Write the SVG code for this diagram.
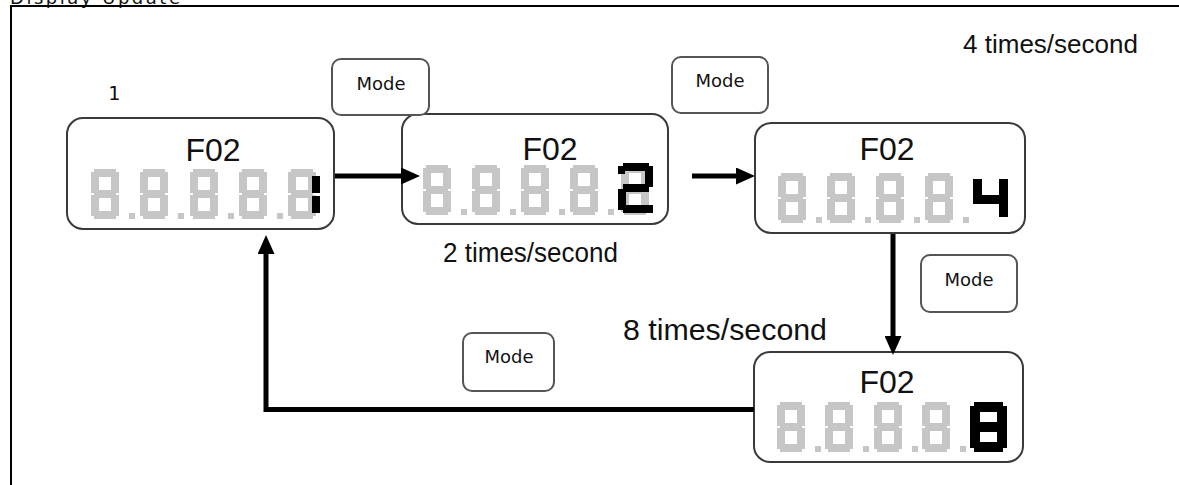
<svg xmlns="http://www.w3.org/2000/svg" xmlns:xlink="http://www.w3.org/1999/xlink" width="1179" height="485" viewBox="0 0 1179 485">
<style>
.frame{fill:none;stroke:#000;stroke-width:2}
.lcd{fill:#fff;stroke:#3a3a3a;stroke-width:2}
.btn{fill:#fff;stroke:#555;stroke-width:2}
.f02{font-family:"Liberation Sans",Arial,sans-serif;font-size:32px;fill:#111;text-anchor:middle}
.mode{font-family:"DejaVu Sans",sans-serif;font-size:18px;fill:#111;text-anchor:middle}
.rate{font-family:"Liberation Sans",Arial,sans-serif;fill:#111}
.seg{fill:#c6c6c6}
.blk{fill:#000}
.conn{fill:none;stroke:#000;stroke-width:5}
</style>
<defs>
<marker id="ah" viewBox="0 0 19 17" refX="1" refY="8.5" markerWidth="19" markerHeight="17" markerUnits="userSpaceOnUse" orient="auto">
<path d="M0,0 L19,8.5 L0,17 Z" fill="#000"/>
</marker>
<g id="g8" class="seg">
<rect x="3" y="0" width="22" height="8"/>
<rect x="0" y="3" width="8" height="21"/>
<rect x="20" y="3" width="8" height="21"/>
<rect x="3" y="21" width="22" height="8"/>
<rect x="0" y="26" width="8" height="21"/>
<rect x="20" y="26" width="8" height="21"/>
<rect x="3" y="42" width="22" height="8"/>
</g>
<g id="g8d">
<use xlink:href="#g8"/>
<rect class="seg" x="38" y="44" width="6" height="6"/>
</g>
</defs>
<rect width="1179" height="485" fill="#fff"/>
<text x="10" y="4" font-family="DejaVu Sans,sans-serif" font-size="18" textLength="170" fill="#111">Display Update</text>
<path class="frame" d="M11,485 V6 H1179"/>

<g id="node1">
<rect class="lcd" x="67" y="118" width="267" height="111" rx="16"/>
<text class="f02" x="213" y="161">F02</text>
<use xlink:href="#g8d" x="91" y="169"/>
<use xlink:href="#g8d" x="140" y="169"/>
<use xlink:href="#g8d" x="190" y="169"/>
<use xlink:href="#g8d" x="239" y="169"/>
<use xlink:href="#g8" x="288" y="169"/>
<rect class="blk" x="312" y="176" width="8" height="17"/>
<rect class="blk" x="312" y="196" width="8" height="17"/>
</g>

<g id="node2">
<rect class="lcd" x="402" y="114" width="266" height="110" rx="16"/>
<text class="f02" x="550" y="160">F02</text>
<use xlink:href="#g8d" x="423" y="165"/>
<use xlink:href="#g8d" x="472" y="165"/>
<use xlink:href="#g8d" x="521" y="165"/>
<use xlink:href="#g8d" x="570" y="165"/>
<use xlink:href="#g8" x="621" y="165"/>
<g class="blk">
<rect x="623" y="163" width="26" height="8"/>
<rect x="618" y="166" width="7" height="8"/>
<rect x="645" y="166" width="8" height="21"/>
<rect x="623" y="184" width="26" height="8"/>
<rect x="618" y="189" width="8" height="21"/>
<rect x="623" y="205" width="30" height="8"/>
</g>
</g>

<g id="node3">
<rect class="lcd" x="755" y="123" width="270" height="110" rx="16"/>
<text class="f02" x="887" y="160">F02</text>
<use xlink:href="#g8d" x="778" y="173"/>
<use xlink:href="#g8d" x="827" y="173"/>
<use xlink:href="#g8d" x="876" y="173"/>
<use xlink:href="#g8d" x="925" y="173"/>
<g class="blk">
<rect x="973" y="179" width="9" height="25"/>
<rect x="973" y="195" width="35" height="9"/>
<rect x="999" y="179" width="9" height="38"/>
</g>
</g>

<g id="node4">
<rect class="lcd" x="754" y="352" width="269" height="110" rx="16"/>
<text class="f02" x="887" y="393">F02</text>
<use xlink:href="#g8d" x="777" y="402"/>
<use xlink:href="#g8d" x="825" y="402"/>
<use xlink:href="#g8d" x="874" y="402"/>
<use xlink:href="#g8d" x="922" y="402"/>
<g class="blk">
<rect x="974" y="402" width="29" height="10"/>
<rect x="970" y="406" width="10" height="21"/>
<rect x="997" y="406" width="10" height="21"/>
<rect x="974" y="422" width="29" height="10"/>
<rect x="970" y="427" width="10" height="21"/>
<rect x="997" y="427" width="10" height="21"/>
<rect x="974" y="442" width="29" height="10"/>
</g>
</g>

<g id="mode1">
<rect class="btn" x="332" y="59" width="97" height="56" rx="9"/>
<text class="mode" x="381" y="90">Mode</text>
</g>
<g id="mode2">
<rect class="btn" x="672" y="57" width="96" height="56" rx="9"/>
<text class="mode" x="720" y="87">Mode</text>
</g>
<g id="mode3">
<rect class="btn" x="921" y="255" width="96" height="57" rx="9"/>
<text class="mode" x="969" y="286">Mode</text>
</g>
<g id="mode4">
<rect class="btn" x="463" y="333" width="91" height="58" rx="9"/>
<text class="mode" x="509" y="363">Mode</text>
</g>

<g id="connectors">
<path class="conn" d="M335,176 H402" marker-end="url(#ah)"/>
<path class="conn" d="M692,176 H737" marker-end="url(#ah)"/>
<path class="conn" d="M893,234 V337" marker-end="url(#ah)"/>
<path class="conn" d="M754,409.5 H266 V253" marker-end="url(#ah)"/>
</g>

<g id="labels">
<text x="114" y="100" font-family="DejaVu Sans Mono,monospace" font-size="20" fill="#111" text-anchor="middle">1</text>
<text class="rate" x="443" y="262" font-size="27" textLength="175" lengthAdjust="spacingAndGlyphs">2 times/second</text>
<text class="rate" x="963" y="53" font-size="26" textLength="175" lengthAdjust="spacingAndGlyphs">4 times/second</text>
<text class="rate" x="623" y="340" font-size="30" textLength="204" lengthAdjust="spacingAndGlyphs">8 times/second</text>
</g>
</svg>
